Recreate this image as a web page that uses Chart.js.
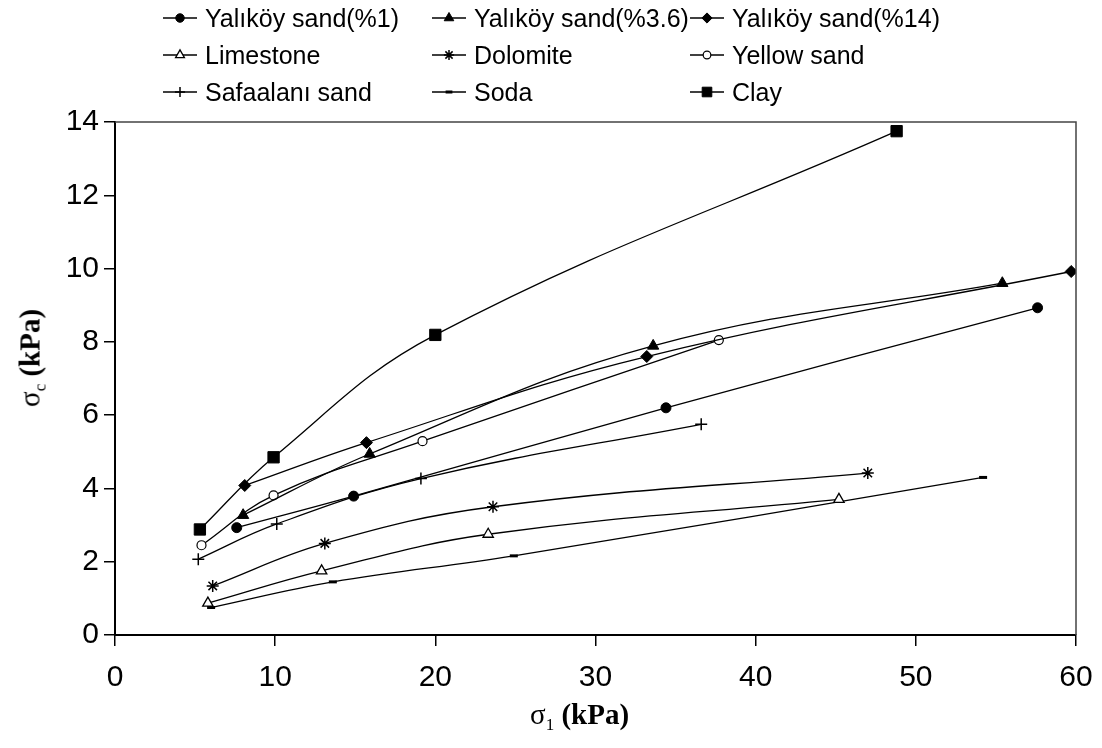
<!DOCTYPE html>
<html>
<head>
<meta charset="utf-8">
<script src="https://cdn.jsdelivr.net/npm/chart.js@4/dist/chart.umd.min.js"></script>
<style>
  html, body { margin: 0; padding: 0; background: #fff; }
  #wrap { position: relative; width: 1102px; height: 748px; overflow: hidden; }
  #c { position: absolute; left: 0; top: 0; }
  .leg { position: absolute; height: 30px; display: flex; align-items: center; white-space: nowrap;
         font-family: "Liberation Sans", Arial, sans-serif; font-size: 25px; color: #000; }
  .leg canvas { margin-right: 8px; }
  .atitle { position: absolute; font-family: "Liberation Serif", "Times New Roman", serif; font-size: 29px;
            font-weight: bold; color: #000; white-space: nowrap; }
  .atitle sub { font-size: 17px; vertical-align: -6px; font-weight: normal; }
  .atitle .sig { font-weight: normal; }
</style>
</head>
<body>
<div id="wrap">
  <canvas id="c" width="1102" height="748"></canvas>
  <div class="atitle" id="xt" style="left:530px; top:698px;"><span class="sig">σ</span><sub>1</sub> (kPa)</div>
  <div class="atitle" id="yt" style="left:32px; top:358px; transform: translate(-50%,-50%) rotate(-90deg);"><span class="sig">σ</span><sub>c</sub> (kPa)</div>
</div>
<script>
// ---- data ----
const seriesNames = ["Yalıköy sand(%1)", "Yalıköy sand(%3.6)", "Yalıköy sand(%14)",
                     "Limestone", "Dolomite", "Yellow sand",
                     "Safaalanı sand", "Soda", "Clay"];
const yal1X   = [7.6, 14.9, 34.4, 57.6];   const yal1Y   = [2.93, 3.79, 6.2, 8.93];
const yal36X  = [8.0, 15.9, 33.6, 55.4];   const yal36Y  = [3.27, 4.94, 7.89, 9.6];
const yal14X  = [8.1, 15.7, 33.2, 59.7];   const yal14Y  = [4.08, 5.25, 7.6, 9.92];
const limeX   = [5.8, 12.9, 23.3, 45.2];   const limeY   = [0.87, 1.75, 2.75, 3.7];
const doloX   = [6.1, 13.1, 23.6, 47.0];   const doloY   = [1.34, 2.5, 3.5, 4.42];
const yellowX = [5.4, 9.9, 19.2, 37.7];    const yellowY = [2.45, 3.81, 5.29, 8.05];
const safaX   = [5.2, 10.1, 19.1, 36.6];   const safaY   = [2.07, 3.03, 4.27, 5.75];
const sodaX   = [6.0, 13.6, 24.9, 54.2];   const sodaY   = [0.75, 1.45, 2.16, 4.3];
const clayX   = [5.3, 9.9, 20.0, 48.8];    const clayY   = [2.88, 4.85, 8.19, 13.75];
const xTicks = [0, 10, 20, 30, 40, 50, 60];
const yTicks = [0, 2, 4, 6, 8, 10, 12, 14];

// ---- styles ----
const markers = [
  { pointStyle: 'circle',   radius: 5,   fill: '#000', bw: 1 },
  { pointStyle: 'triangle', radius: 6.5, fill: '#000', bw: 1 },
  { pointStyle: 'rectRot',  radius: 6,   fill: '#000', bw: 1 },
  { pointStyle: 'triangle', radius: 6,   fill: '#fff', bw: 1.3 },
  { pointStyle: 'star',     radius: 6,   fill: '#000', bw: 1.5 },
  { pointStyle: 'circle',   radius: 4.5, fill: '#fff', bw: 1.2 },
  { pointStyle: 'cross',    radius: 6,   fill: '#000', bw: 1.5 },
  { pointStyle: 'line',     radius: 4,   fill: '#000', bw: 3 },
  { pointStyle: 'rect',     radius: 8,   fill: '#000', bw: 1 }
];
const xs = [yal1X, yal36X, yal14X, limeX, doloX, yellowX, safaX, sodaX, clayX];
const ys = [yal1Y, yal36Y, yal14Y, limeY, doloY, yellowY, safaY, sodaY, clayY];

const datasets = seriesNames.map((name, i) => ({
  label: name,
  data: xs[i].map((x, k) => ({ x: x, y: ys[i][k] })),
  borderColor: '#000',
  borderWidth: 1.3,
  backgroundColor: markers[i].fill,
  pointBackgroundColor: markers[i].fill,
  pointBorderColor: '#000',
  pointBorderWidth: markers[i].bw,
  pointStyle: markers[i].pointStyle,
  pointRadius: markers[i].radius,
  tension: 0.4,
  fill: false
}));

const boxPlugin = {
  id: 'box',
  afterDraw(chart) {
    const { ctx, chartArea: a } = chart;
    ctx.save();
    ctx.strokeStyle = '#444';
    ctx.lineWidth = 1.5;
    ctx.beginPath();
    ctx.moveTo(a.left, a.top); ctx.lineTo(a.right, a.top); ctx.lineTo(a.right, a.bottom);
    ctx.stroke();
    ctx.restore();
  }
};

const tickFont = { family: '"Liberation Sans", Arial, sans-serif', size: 30 };

new Chart(document.getElementById('c'), {
  type: 'line',
  data: { datasets },
  plugins: [boxPlugin],
  options: {
    responsive: false,
    animation: false,
    devicePixelRatio: 1,
    layout: { padding: { top: 122, right: 26, left: 0, bottom: 0 } },
    plugins: { legend: { display: false }, tooltip: { enabled: false } },
    scales: {
      x: {
        type: 'linear', min: 0, max: 60,
        afterBuildTicks: s => { s.ticks = xTicks.map(v => ({ value: v })); },
        ticks: { font: tickFont, color: '#000', padding: 14, maxRotation: 0 },
        grid: { drawOnChartArea: false, drawTicks: true, tickLength: 11, color: '#000', lineWidth: 1.5 },
        border: { display: true, color: '#000', width: 2 },
        afterFit: s => { s.height = 113; s.paddingRight = 20; s.paddingLeft = 0; }
      },
      y: {
        type: 'linear', min: 0, max: 14,
        afterBuildTicks: s => { s.ticks = yTicks.map(v => ({ value: v })); },
        ticks: { font: tickFont, color: '#000', padding: 5 },
        grid: { drawOnChartArea: false, drawTicks: true, tickLength: 11, color: '#000', lineWidth: 1.5 },
        border: { display: true, color: '#000', width: 2 },
        afterFit: s => { s.width = 115; }
      }
    }
  }
});

// ---- legend (3 x 3 grid) ----
const legCols = [163, 432, 690];
const legRows = [18, 55, 92];
const wrap = document.getElementById('wrap');
seriesNames.forEach((name, i) => {
  const div = document.createElement('div');
  div.className = 'leg';
  div.style.left = legCols[i % 3] + 'px';
  div.style.top = (legRows[Math.floor(i / 3)] - 15) + 'px';
  const cv = document.createElement('canvas');
  cv.width = 34; cv.height = 24;
  const g = cv.getContext('2d');
  g.strokeStyle = '#000'; g.lineWidth = 1.4;
  g.beginPath(); g.moveTo(0, 12); g.lineTo(34, 12); g.stroke();
  g.fillStyle = markers[i].fill; g.strokeStyle = '#000'; g.lineWidth = markers[i].bw;
  const m = markers[i];
  if (Chart.helpers && Chart.helpers.drawPoint) {
    Chart.helpers.drawPoint(g, { pointStyle: m.pointStyle, radius: m.radius * 0.85, rotation: 0, borderWidth: m.bw }, 17, 12);
  }
  div.appendChild(cv);
  const sp = document.createElement('span');
  sp.textContent = name;
  div.appendChild(sp);
  wrap.appendChild(div);
});
</script>
</body>
</html>
